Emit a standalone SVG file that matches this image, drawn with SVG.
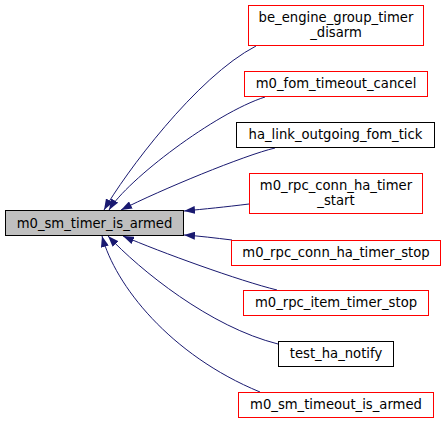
<svg xmlns="http://www.w3.org/2000/svg" width="445" height="423" viewBox="0 0 445 423">
<defs>
<style>
.n rect{fill:#ffffff;stroke-width:1}
.red rect{stroke:#ff0000}
.blk rect{stroke:#000000}
.main rect{fill:#bfbfbf;stroke:#000000}
text{font-family:"DejaVu Sans",sans-serif;font-size:13.2px;fill:#000000;text-anchor:middle}
.e path{fill:none;stroke:#191970;stroke-width:1;marker-end:url(#ah)}
</style>
<marker id="ah" markerUnits="userSpaceOnUse" markerWidth="11" markerHeight="8" refX="11" refY="4" orient="auto" viewBox="0 0 11 8">
<path d="M0,0 L11,4 L0,8 z" fill="#191970"/>
</marker>
</defs>
<rect width="445" height="423" fill="#ffffff"/>
<g id="edges" class="e">
<path d="M256,46 C196,77 124,175 104,210"/>
<path d="M265,97 C215,113 127,180 109,210"/>
<path d="M275,148 C245,155 160,190 121,210"/>
<path d="M249,204 C225,207 205,209 184,211"/>
<path d="M232,240 C215,238 200,236 184,235"/>
<path d="M277,290 C240,281 160,252 123,236"/>
<path d="M278,344 C210,327 140,270 108,236"/>
<path d="M260,392 C170,355 115,285 102,236"/>
</g>
<g id="node_main" class="n main"><rect x="5.5" y="210.5" width="178" height="25"/><text x="94.5" y="227.5">m0_sm_timer_is_armed</text></g>
<g id="node1" class="n red"><rect x="248.5" y="5.5" width="175" height="40"/><text x="336" y="22">be_engine_group_timer</text><text x="336" y="36.5">_disarm</text></g>
<g id="node2" class="n red"><rect x="244.5" y="71.5" width="183" height="25"/><text x="336" y="88">m0_fom_timeout_cancel</text></g>
<g id="node3" class="n blk"><rect x="236.5" y="122.5" width="198" height="25"/><text x="335.5" y="139">ha_link_outgoing_fom_tick</text></g>
<g id="node4" class="n red"><rect x="249.5" y="173.5" width="173" height="40"/><text x="336" y="190">m0_rpc_conn_ha_timer</text><text x="336" y="204.5">_start</text></g>
<g id="node5" class="n red"><rect x="231.5" y="240.5" width="209" height="25"/><text x="336" y="257">m0_rpc_conn_ha_timer_stop</text></g>
<g id="node6" class="n red"><rect x="243.5" y="290.5" width="185" height="25"/><text x="336" y="307">m0_rpc_item_timer_stop</text></g>
<g id="node7" class="n blk"><rect x="278.5" y="341.5" width="115" height="25"/><text x="336" y="358">test_ha_notify</text></g>
<g id="node8" class="n red"><rect x="238.5" y="392.5" width="195" height="25"/><text x="336" y="409">m0_sm_timeout_is_armed</text></g>
</svg>
